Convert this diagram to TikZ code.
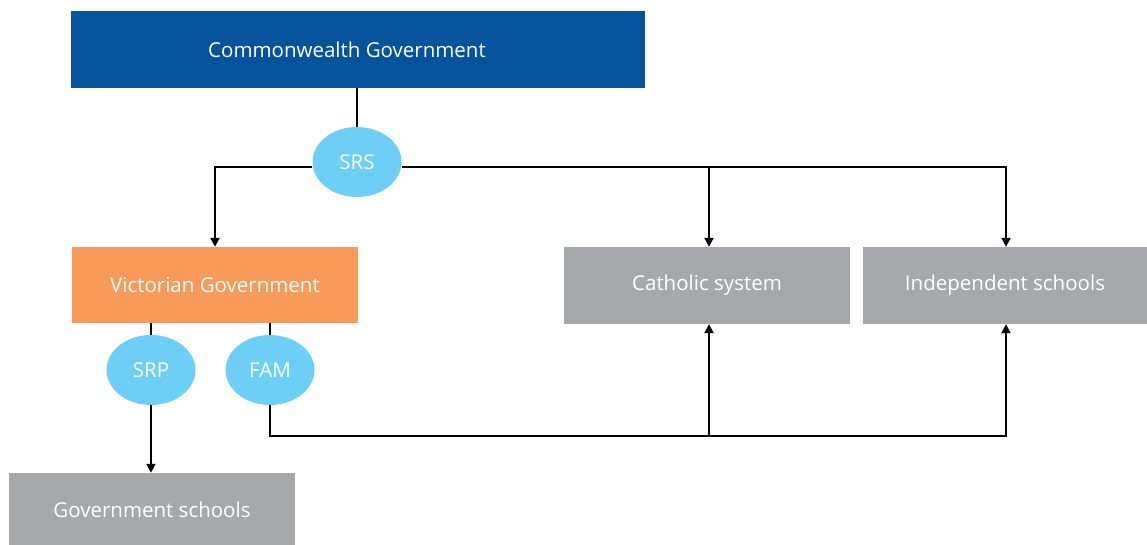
\documentclass[tikz,border=0pt]{standalone}
\usepackage{fontspec}
\setmainfont{Open Sans}
\usetikzlibrary{arrows.meta,shapes.geometric}
\definecolor{cwblue}{HTML}{04539C}
\definecolor{vicorange}{HTML}{F79A5A}
\definecolor{boxgrey}{HTML}{A7A8AB}
\definecolor{ovalblue}{HTML}{6DCFF6}
\begin{document}
\begin{tikzpicture}[x=1pt,y=-1pt,
  box/.style={rectangle,inner sep=0pt,text=white,font=\fontsize{20.5}{24}\selectfont},
  oval/.style={ellipse,fill=ovalblue,inner sep=0pt,minimum width=89pt,minimum height=70pt,text=white,font=\fontsize{20.5}{24}\selectfont},
  conn/.style={line width=2pt,draw=black},
  arr/.style={conn,-{Triangle[width=9pt,length=9pt]}}]
\useasboundingbox (0,0) rectangle (1147,545);
\node[box,fill=cwblue,minimum width=574pt,minimum height=77pt] (cw) at (358,49.5) {\hspace*{-22pt}Commonwealth Government};
\node[box,fill=vicorange,minimum width=286pt,minimum height=76pt] (vic) at (215,285) {Victorian Government};
\node[box,fill=boxgrey,minimum width=286pt,minimum height=77pt] (cath) at (707,285.5) {Catholic system};
\node[box,fill=boxgrey,minimum width=284pt,minimum height=77pt] (ind) at (1005,285.5) {Independent schools};
\node[box,fill=boxgrey,minimum width=286pt,minimum height=74pt] (gov) at (152,510) {Government schools};
\node[oval] (srs) at (357,162) {SRS};
\node[oval] (srp) at (151,370) {SRP};
\node[oval] (fam) at (270,370) {FAM};
\coordinate (j1) at (709,436);
% connectors
\draw[conn] (cw.south -| srs) -- (srs.north);
\draw[arr] (srs.west |- 0,167) -| (vic.north);
\draw[arr] (srs.east |- 0,167) -| (ind.north -| 1006,0);
\draw[arr] (709,167) -- (cath.north -| 709,0);
\draw[conn] (vic.south -| srp) -- (srp.north);
\draw[conn] (vic.south -| fam) -- (fam.north);
\draw[arr] (srp.south) -- (gov.north -| srp);
\draw[arr] (fam.south) |- (j1) -| (ind.south -| 1006,0);
\draw[arr] (j1) -- (cath.south -| j1);
\end{tikzpicture}
\end{document}
